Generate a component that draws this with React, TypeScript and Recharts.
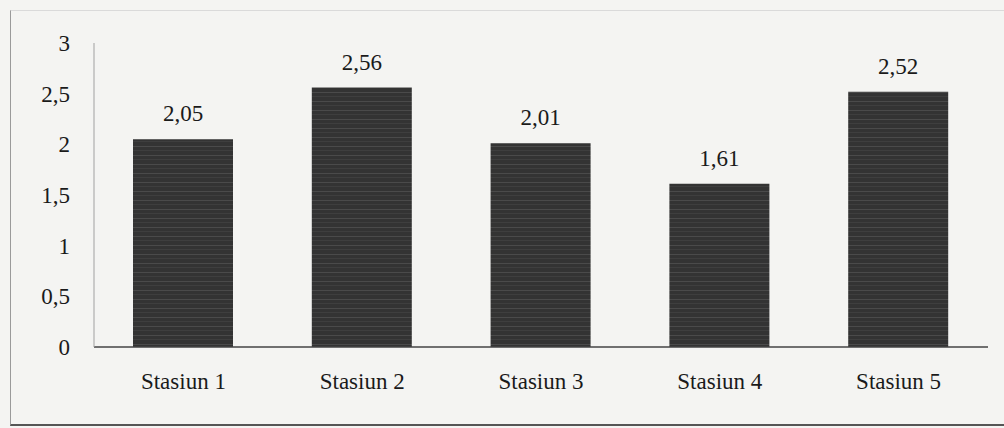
import { BarChart, Bar, XAxis, YAxis, LabelList } from 'recharts';

// Values
const stations = ['Stasiun 1', 'Stasiun 2', 'Stasiun 3', 'Stasiun 4', 'Stasiun 5'];
const values = [2.05, 2.56, 2.01, 1.61, 2.52];
const yTicks = [0, 0.5, 1, 1.5, 2, 2.5, 3];

const data = stations.map((name, i) => ({ name, value: values[i] }));

const fmt = (v: number) => String(v).replace('.', ',');

const font = '"Liberation Serif", "DejaVu Serif", serif';

export default function App() {
  return (
    <div
      style={{
        position: 'fixed',
        left: 0,
        top: 0,
        width: 1004,
        height: 428,
        background: '#f4f4f2',
        fontFamily: font,
        overflow: 'hidden',
      }}
    >
      {/* scanned frame */}
      <div
        style={{
          position: 'absolute',
          left: 10,
          top: 10,
          width: 1010,
          height: 413,
          borderLeft: '1px solid #9a9a9a',
          borderTop: '1px solid #dadada',
          borderBottom: '2px solid #555',
        }}
      />
      <BarChart
        width={1004}
        height={428}
        data={data}
        margin={{ top: 43, right: 16, bottom: 0, left: 34 }}
        style={{ position: 'absolute', left: 0, top: 0 }}
      >
        <defs>
          <pattern id="scan" patternUnits="userSpaceOnUse" width="100" height="9">
            <rect width="100" height="9" fill="#333333" />
            <rect y="2" width="100" height="1" fill="#4a4a4a" />
            <rect y="6" width="100" height="1" fill="#3e3e3e" />
          </pattern>
        </defs>
        <XAxis
          dataKey="name"
          height={81}
          axisLine={{ stroke: '#444', strokeWidth: 1.5 }}
          tickLine={false}
          tickSize={0}
          tickMargin={26}
          tick={{ fill: '#1a1a1a', fontSize: 23, fontFamily: font }}
        />
        <YAxis
          width={60}
          domain={[0, 3]}
          ticks={yTicks}
          tickFormatter={fmt}
          axisLine={{ stroke: '#a0a0a0' }}
          tickLine={false}
          tickSize={0}
          tickMargin={24}
          tick={{ fill: '#1a1a1a', fontSize: 23, fontFamily: font }}
        />
        <Bar dataKey="value" fill="url(#scan)" barSize={100} isAnimationActive={false}>
          <LabelList
            dataKey="value"
            position="top"
            offset={18}
            formatter={(v: number) => fmt(v)}
            style={{ fill: '#1a1a1a', fontSize: 23, fontFamily: font }}
          />
        </Bar>
      </BarChart>
    </div>
  );
}
